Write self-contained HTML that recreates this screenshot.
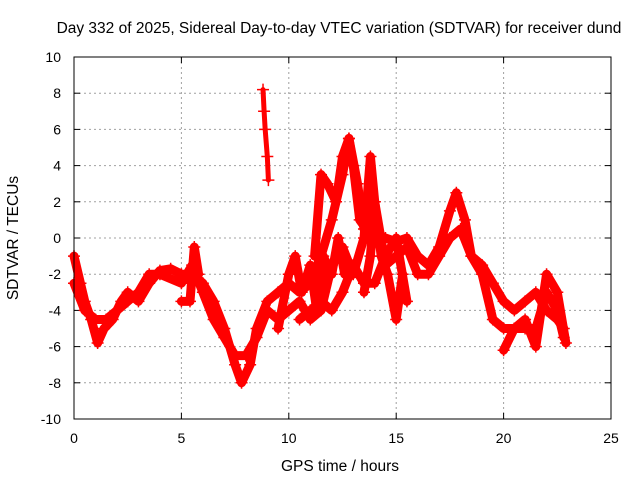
<!DOCTYPE html>
<html><head><meta charset="utf-8"><style>
body{margin:0;background:#fff;width:640px;height:480px;overflow:hidden}
svg{display:block}
text{font-family:"Liberation Sans",sans-serif;font-size:14px;fill:#000}
.big{font-size:15.5px}
</style></head><body>
<svg id="chart" width="640" height="480" xmlns="http://www.w3.org/2000/svg">
<text class="big" x="339" y="33" text-anchor="middle">Day 332 of 2025, Sidereal Day-to-day VTEC variation (SDTVAR) for receiver dund</text>
<text class="big" x="340" y="471" text-anchor="middle">GPS time / hours</text>
<text class="big" transform="translate(18,238) rotate(-90)" text-anchor="middle">SDTVAR / TECUs</text>
<g id="grid"></g><g id="ticks"></g><g id="marks"></g>
<rect x="74" y="57" width="537" height="362" fill="none" stroke="#000" stroke-width="1"/>
</svg>
<script>
const xTicks=[0,5,10,15,20,25];
const yTicks=[-10,-8,-6,-4,-2,0,2,4,6,8,10];
const traceAHours=[0,0.3,0.5,0.8,1.1,1.4,1.8,2.2,2.5,3,3.5,4,4.5,5,5.5,6,6.5,7,7.5,7.8,8.2,8.5,9,9.5,10,10.5,11,11.5,12,12.5,12.8,13.2,13.5,14,14.5,15,15.5,16,16.5,17,17.5,17.8,18.2,18.5,19,19.5,20,20.5,21,21.5,22,22.5,22.8];
const traceAValues=[-1,-2.5,-3.5,-4.5,-5.8,-5,-4.5,-3.5,-3,-3.5,-2.5,-1.8,-1.7,-2,-2,-2.5,-3.5,-5,-7,-8,-7,-5,-3.5,-3,-2.5,-3,-2.5,-1,1,3.5,5.5,3,0.5,0.2,0,-0.2,0,-1,-1.5,-0.5,1.5,2.5,1,-1,-1.5,-2.5,-3.5,-4,-3.5,-3,-4,-4.5,-5];
const traceBHours=[0,0.5,1,1.5,2,2.5,3,3.5,4,5,5.5,6,6.5,7,7.5,8,8.5,9,9.5,10,10.5,11,11.5,12,12.5,13,13.5,13.8,14,14.5,15,15.5,16,16.5,17,17.5,18,18.5,19,19.5,20,20.5,21,21.5,22,22.5,22.8];
const traceBValues=[-2.5,-4,-4.5,-4.5,-4,-3.5,-3,-2,-2,-2.5,-1.5,-3,-4.5,-5.5,-6.5,-6.5,-5.5,-4,-4.5,-4,-3.5,-4.5,-4,-1.5,-0.5,-2,0,4.5,2,-1.5,-1,-0.5,-2,-2,-1,0,0.5,-1,-2,-4.5,-5,-5,-5,-5,-3,-4,-5.5];
const traceCHours=[8.8,8.85,8.9,9,9.05];
const traceCValues=[8.2,7,6,4.5,3.2];
const traceDHours=[10.5,11,11.5,12,12.5,13,13.5,14,14.5,15,15.5];
const traceDValues=[-4.5,-4,-3.5,-4,-3,-1.5,-2.5,-2.5,-1,0,-3.5];
const traceEHours=[5,5.4,5.6,5.8];
const traceEValues=[-3.5,-3.5,-0.5,-2];
const traceFHours=[20,20.5,21,21.5,22,22.5,22.9];
const traceFValues=[-6.2,-5,-4.5,-6,-2,-3,-5.8];
const traceGHours=[11.2,11.5,11.8,12.2,12.5,12.8,13,13.3,13.6];
const traceGValues=[-1,3.5,3,2,4.5,5.5,4,1,0.5];
const traceHHours=[9.5,10,10.3,10.6,11,11.3,11.6,12,12.3,12.6];
const traceHValues=[-5,-2,-1,-3,-1.5,-4,-1,-2,0,-2];
const traceIHours=[13.5,13.8,14,14.3,14.6,15,15.3];
const traceIValues=[-3,-1,2,-1,-2,-4.5,-2];
const X0=74,X1=611,Y0=419,Y1=57;
const sx=h=>X0+(h-0)/25*(X1-X0);
const sy=v=>Y0-(v+10)/20*(Y0-Y1);
const NS='http://www.w3.org/2000/svg';
const grid=document.getElementById('grid'),ticks=document.getElementById('ticks'),marks=document.getElementById('marks');
function mk(t,p,a){const e=document.createElementNS(NS,t);for(const k in a)e.setAttribute(k,a[k]);p.appendChild(e);return e;}
xTicks.forEach(t=>{const x=sx(t);
 if(t>0&&t<25){const g=mk('line',grid,{x1:x,x2:x,y1:Y1,y2:Y0,stroke:'#a0a0a0','stroke-dasharray':'2,3'});
 
 }
 const l=mk('text',ticks,{x:x,y:Y0+24,'text-anchor':'middle'});l.textContent=t;
 
 
 mk('line',ticks,{x1:x,x2:x,y1:Y0,y2:Y0-6,stroke:'#000'});mk('line',ticks,{x1:x,x2:x,y1:Y1,y2:Y1+6,stroke:'#000'});});
yTicks.forEach(t=>{const y=sy(t);
 if(t>-10&&t<10){const g=mk('line',grid,{x1:X0,x2:X1,y1:y,y2:y,stroke:'#a0a0a0','stroke-dasharray':'2,3'});
 
 }
 const l=mk('text',ticks,{x:X0-13,y:y+5,'text-anchor':'end'});l.textContent=t;
 
 
 mk('line',ticks,{x1:X0,x2:X0+6,y1:y,y2:y,stroke:'#000'});mk('line',ticks,{x1:X1,x2:X1-6,y1:y,y2:y,stroke:'#000'});});
const traces=[[traceAHours,traceAValues,'trace-a'],[traceBHours,traceBValues,'trace-b'],[traceCHours,traceCValues,'trace-c'],[traceDHours,traceDValues,'trace-d'],[traceEHours,traceEValues,'trace-e'],[traceFHours,traceFValues,'trace-f'],[traceGHours,traceGValues,'trace-g'],[traceHHours,traceHValues,'trace-h'],[traceIHours,traceIValues,'trace-i']];
traces.forEach(([hs,vs,name])=>{
 const pts=hs.map((h,i)=>sx(h)+','+sy(vs[i])).join(' ');
 const pl=mk('polyline',marks,{points:pts,fill:'none',stroke:'#ff0000','stroke-width':name==='trace-c'?5:9,'stroke-linejoin':'round','stroke-linecap':'round'});
 
 
 hs.forEach((h,i)=>{const x=sx(h),y=sy(vs[i]);
  const p=mk('path',marks,{d:`M${x-6},${y}H${x+6}M${x},${y-6}V${y+6}`,stroke:'#ff0000','stroke-width':1.5});
  
  });
});
</script>
</body></html>
